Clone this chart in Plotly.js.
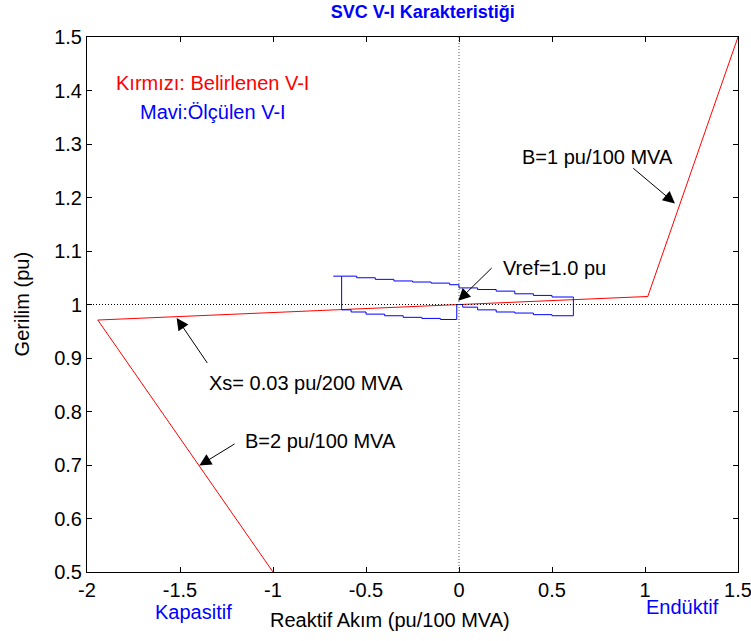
<!DOCTYPE html>
<html>
<head>
<meta charset="utf-8">
<script src="https://cdn.plot.ly/plotly-3.0.1.min.js"></script>
<style>html,body{margin:0;padding:0;background:#fff;}#chart{width:751px;height:641px;}</style>
</head>
<body>
<div id="chart"></div>
<script>
// Specified (red) V-I characteristic
const redX = [-1.0, -1.942, 1.015, 1.5];
const redY = [0.5, 0.971, 1.015, 1.5];

// Measured (blue) V-I staircase loop
const blueX = [-0.676, -0.631, -0.55, -0.45, -0.35, -0.25, -0.15, -0.05, 0.0, 0.1, 0.2, 0.3, 0.4, 0.5, 0.615,
               0.615, 0.5, 0.4, 0.3, 0.2, 0.1, 0.02, -0.012, -0.012,
               -0.1, -0.2, -0.3, -0.4, -0.5, -0.58, -0.631, -0.631];
const blueY = [1.053, 1.053, 1.050, 1.047, 1.044, 1.042, 1.040, 1.037, 1.031, 1.028, 1.025, 1.020, 1.017, 1.014, 1.011,
               0.979, 0.981, 0.984, 0.986, 0.990, 0.995, 1.000, 1.000, 0.972,
               0.974, 0.976, 0.979, 0.982, 0.986, 0.990, 0.992, 1.053];

const xTickVals = [-2, -1.5, -1, -0.5, 0, 0.5, 1, 1.5];
const xTickText = ["-2", "-1.5", "-1", "-0.5", "0", "0.5", "1", "1.5"];
const yTickVals = [0.5, 0.6, 0.7, 0.8, 0.9, 1.0, 1.1, 1.2, 1.3, 1.4, 1.5];
const yTickText = ["0.5", "0.6", "0.7", "0.8", "0.9", "1", "1.1", "1.2", "1.3", "1.4", "1.5"];

const titleText = "SVC V-I Karakteristiği";
const xTitle = "Reaktif Akım (pu/100 MVA)";
const yTitle = "Gerilim (pu)";
const legendRed = "Kırmızı: Belirlenen V-I";
const legendBlue = "Mavi:Ölçülen V-I";
const capLabel = "Kapasitif";
const indLabel = "Endüktif";

// arrow notes: text, text pos, arrow tail, arrow head
const notes = [
  {text: "B=1 pu/100 MVA", tx: 0.742, ty: 1.275, ax: 0.929, ay: 1.257, hx: 1.161, hy: 1.189},
  {text: "Vref=1.0 pu", tx: 0.516, ty: 1.069, ax: 0.184, ay: 1.071, hx: -0.004, hy: 1.007},
  {text: "Xs= 0.03 pu/200 MVA", tx: -0.823, ty: 0.854, ax: -1.348, ay: 0.888, hx: -1.518, hy: 0.975},
  {text: "B=2 pu/100 MVA", tx: -0.742, ty: 0.744, ax: -1.199, ay: 0.741, hx: -1.396, hy: 0.699}
];

const FONT = "Liberation Sans, Arial, sans-serif";
const FS = 20;

const traces = [
  {x: redX, y: redY, type: "scatter", mode: "lines", line: {color: "#ff0000", width: 1}, hoverinfo: "skip"},
  {x: blueX, y: blueY, type: "scatter", mode: "lines", line: {color: "#0000ff", width: 1, shape: "hv"}, hoverinfo: "skip"}
];

const annotations = [];
notes.forEach(n => {
  annotations.push({x: n.tx, y: n.ty, xref: "x", yref: "y", text: n.text, showarrow: false,
    xanchor: "center", yanchor: "middle", font: {family: FONT, size: FS, color: "#000"}});
  annotations.push({x: n.hx, y: n.hy, xref: "x", yref: "y", ax: n.ax, ay: n.ay, axref: "x", ayref: "y",
    text: "", showarrow: true, arrowhead: 2, arrowsize: 2.4, arrowwidth: 1, arrowcolor: "#000"});
});
const C = {xanchor: "center", yanchor: "middle", showarrow: false};
annotations.push(Object.assign({x: -1.325, y: 1.414, xref: "x", yref: "y", text: legendRed,
  font: {family: FONT, size: FS, color: "#ff0000"}}, C));
annotations.push(Object.assign({x: -1.325, y: 1.359, xref: "x", yref: "y", text: legendBlue,
  font: {family: FONT, size: FS, color: "#0000ff"}}, C));
annotations.push(Object.assign({x: -1.43, y: -0.075, xref: "x", yref: "paper", text: capLabel,
  font: {family: FONT, size: FS, color: "#0000ff"}}, C));
annotations.push(Object.assign({x: 1.2, y: -0.066, xref: "x", yref: "paper", text: indLabel,
  font: {family: FONT, size: FS, color: "#0000ff"}}, C));
annotations.push(Object.assign({x: -0.37, y: -0.09, xref: "x", yref: "paper", text: xTitle,
  font: {family: FONT, size: FS, color: "#000"}}, C));
annotations.push(Object.assign({x: -0.1, y: 0.5, xref: "paper", yref: "paper", text: yTitle,
  textangle: -90, font: {family: FONT, size: FS, color: "#000"}}, C));

const layout = {
  width: 751, height: 641,
  margin: {l: 87, r: 13, t: 37, b: 69},
  paper_bgcolor: "#fff", plot_bgcolor: "#fff",
  showlegend: false,
  title: {text: "<b>" + titleText + "</b>", x: 0.563, xanchor: "center", y: 0.982, yanchor: "middle",
    font: {family: FONT, size: 18, color: "#0000ff"}},
  font: {family: FONT, size: FS, color: "#000"},
  xaxis: {range: [-2, 1.5], tickvals: xTickVals, ticktext: xTickText, ticks: "inside", ticklen: 5,
    tickcolor: "#000", showline: true, linecolor: "#000", linewidth: 1, mirror: "ticks",
    ticklabeloverflow: "allow",
    showgrid: false, zeroline: false, tickfont: {family: FONT, size: FS, color: "#000"}},
  yaxis: {range: [0.5, 1.5], tickvals: yTickVals, ticktext: yTickText, ticks: "inside", ticklen: 5,
    tickcolor: "#000", showline: true, linecolor: "#000", linewidth: 1, mirror: "ticks",
    ticklabeloverflow: "allow",
    showgrid: false, zeroline: false, tickfont: {family: FONT, size: FS, color: "#000"}},
  shapes: [
    {type: "line", xref: "paper", yref: "y", x0: 0, x1: 1, y0: 1, y1: 1, line: {color: "#000", width: 1, dash: "1px,2px"}},
    {type: "line", xref: "x", yref: "paper", x0: 0, x1: 0, y0: 0, y1: 1, line: {color: "#555", width: 1, dash: "1px,2px"}}
  ],
  annotations: annotations
};

Plotly.newPlot("chart", traces, layout, {displayModeBar: false, staticPlot: true});
</script>
</body>
</html>
